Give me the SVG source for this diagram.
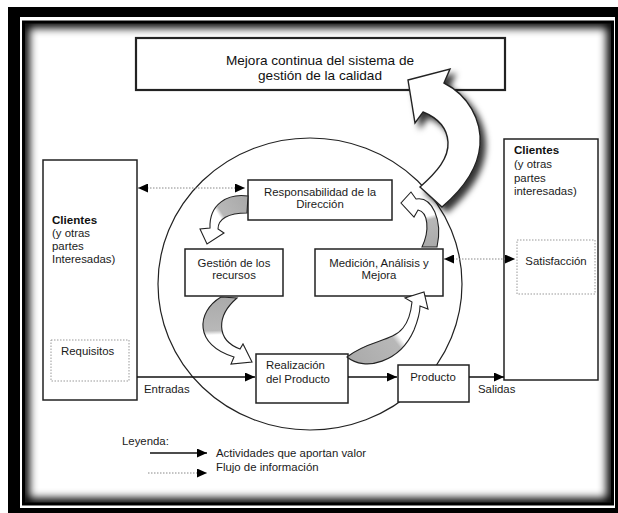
<svg xmlns="http://www.w3.org/2000/svg" width="618" height="513" viewBox="0 0 618 513">
<style>
.t{font-family:"Liberation Sans",Arial,sans-serif;font-size:11.4px;fill:#1a1a1a}
.tb{font-family:"Liberation Sans",Arial,sans-serif;font-size:11.6px;fill:#111;font-weight:bold}
.tt{font-family:"Liberation Sans",Arial,sans-serif;font-size:13.6px;fill:#111}
.box{fill:#fff;stroke:#222;stroke-width:1.5}
.dbox{fill:#fff;stroke:#999;stroke-width:1;stroke-dasharray:1.5 1.5}
.solid{stroke:#111;stroke-width:1.3;fill:none}
.dot{stroke:#888;stroke-width:1;stroke-dasharray:1.5 1.5;fill:none}
.sa{stroke:#222;stroke-width:1.1}
</style>
<defs>
<marker id="ah" markerUnits="userSpaceOnUse" markerWidth="10" markerHeight="9" refX="10" refY="4.5" orient="auto-start-reverse"><path d="M0,0 L10,4.5 L0,9 z" fill="#000"/></marker>
<clipPath id="inner"><rect x="23.5" y="22" width="589" height="482"/></clipPath>
<filter id="blur" x="-5%" y="-5%" width="110%" height="110%"><feGaussianBlur stdDeviation="4"/></filter>
<filter id="shadow" x="-30%" y="-30%" width="160%" height="160%"><feDropShadow dx="5" dy="5" stdDeviation="3" flood-color="#000" flood-opacity="0.8"/></filter>
<linearGradient id="g1" gradientUnits="userSpaceOnUse" x1="248" y1="204" x2="205" y2="232"><stop offset="0" stop-color="#aaa"/><stop offset="0.52" stop-color="#b8b8b8"/><stop offset="0.6" stop-color="#fff"/></linearGradient>
<linearGradient id="g2" gradientUnits="userSpaceOnUse" x1="228" y1="297" x2="230" y2="352"><stop offset="0" stop-color="#aaa"/><stop offset="0.6" stop-color="#b8b8b8"/><stop offset="0.68" stop-color="#fff"/></linearGradient>
<linearGradient id="g3" gradientUnits="userSpaceOnUse" x1="350" y1="360" x2="418" y2="308"><stop offset="0" stop-color="#aaa"/><stop offset="0.55" stop-color="#b8b8b8"/><stop offset="0.63" stop-color="#fff"/></linearGradient>
<linearGradient id="g4" gradientUnits="userSpaceOnUse" x1="430" y1="247" x2="418" y2="200"><stop offset="0" stop-color="#aaa"/><stop offset="0.55" stop-color="#b8b8b8"/><stop offset="0.63" stop-color="#fff"/></linearGradient>
</defs>

<!-- frame -->
<rect x="0" y="0" width="618" height="513" fill="#fff"/>
<rect x="8" y="7" width="620" height="520" fill="#000"/>
<rect x="20" y="17" width="595" height="491" fill="#fff"/>
<rect x="23.5" y="22" width="589" height="482" fill="#fff"/>
<g clip-path="url(#inner)"><rect x="23.5" y="22" width="589" height="482" fill="none" stroke="#000" stroke-width="12" filter="url(#blur)"/></g>
<rect x="23.5" y="22" width="589" height="482" fill="none" stroke="#000" stroke-width="3"/>

<!-- circle -->
<ellipse id="ciclo" cx="310" cy="284" rx="152" ry="146" fill="none" stroke="#222" stroke-width="1.2"/>

<g id="mejora">
<rect class="box" x="136" y="38" width="369" height="52" style="stroke-width:2.2"/>
<text class="tt" x="320" y="65" text-anchor="middle">Mejora continua del sistema de</text>
<text class="tt" x="320" y="80" text-anchor="middle">gestión de la calidad</text>
</g>

<g id="clientes-izq">
<rect class="box" x="43" y="160" width="94" height="240"/>
<text class="tb" x="52" y="224">Clientes</text>
<text class="t" x="52" y="237">(y otras</text>
<text class="t" x="52" y="250">partes</text>
<text class="t" x="52" y="263">Interesadas)</text>
</g>
<g id="requisitos">
<rect class="dbox" x="51" y="340" width="78" height="41"/>
<text class="t" x="61" y="355">Requisitos</text>
</g>

<g id="clientes-der">
<rect class="box" x="504" y="139" width="94" height="241"/>
<text class="tb" x="514" y="154">Clientes</text>
<text class="t" x="514" y="168">(y otras</text>
<text class="t" x="514" y="182">partes</text>
<text class="t" x="514" y="195">interesadas)</text>
</g>
<g id="satisfaccion">
<rect class="dbox" x="517" y="240" width="78" height="54"/>
<text class="t" x="556" y="265" text-anchor="middle">Satisfacción</text>
</g>

<g id="responsabilidad">
<rect class="box" x="248" y="180" width="144" height="40"/>
<text class="t" x="320" y="196" text-anchor="middle">Responsabilidad de la</text>
<text class="t" x="320" y="208" text-anchor="middle">Dirección</text>
</g>
<g id="gestion">
<rect class="box" x="185" y="249" width="98" height="47"/>
<text class="t" x="234" y="267" text-anchor="middle">Gestión de los</text>
<text class="t" x="234" y="279" text-anchor="middle">recursos</text>
</g>
<g id="medicion">
<rect class="box" x="315" y="249" width="128" height="47"/>
<text class="t" x="379" y="267" text-anchor="middle">Medición, Análisis y</text>
<text class="t" x="379" y="279" text-anchor="middle">Mejora</text>
</g>
<g id="realizacion">
<rect class="box" x="256" y="354" width="92" height="49"/>
<text class="t" x="266" y="369">Realización</text>
<text class="t" x="266" y="383">del Producto</text>
</g>
<g id="producto">
<rect class="box" x="398" y="365" width="71" height="37"/>
<text class="t" x="433" y="381" text-anchor="middle">Producto</text>
</g>

<!-- connectors -->
<g id="connectors">
<path class="sa" fill="url(#g1)" d="M248,196 C228,193 209,204 210,228 L200,229 L207,244 L224,233 L218,229 C218,219 228,213 247,213 Z"/>
<path class="sa" fill="url(#g2)" d="M221,297 C196,312 194,345 234,357 L231,364 L252,362 L243,344 L240,349 C216,340 216,316 237,298 Z"/>
<path class="sa" fill="url(#g3)" d="M347,357 C365,372 400,362 414,330 C418,320 420,312 420,306 L428,309 L424,292 L405,298 L412,302 C411,312 408,322 403,328 C392,342 368,340 347,357 Z"/>
<path class="sa" fill="url(#g4)" d="M416,199 C432,196 443,220 437,247 L422,247 C430,230 428,212 418,210 L414,217 L401,203 L411,192 Z"/>
<path fill="#fff" stroke="#222" stroke-width="1.4" filter="url(#shadow)" d="M408,80 L450,69 L444,83 C468,95 482,120 480,145 C478,170 462,190 442,207 L420,187 C437,172 449,158 448,142 C447,128 438,118 423,112 L415,123 Z"/>
<line class="dot" x1="138" y1="188" x2="245" y2="188" marker-start="url(#ah)" marker-end="url(#ah)"/>
<line class="dot" x1="444" y1="259" x2="515" y2="259" marker-start="url(#ah)" marker-end="url(#ah)"/>
<line class="solid" x1="137" y1="377" x2="255" y2="377" marker-end="url(#ah)"/>
<line class="solid" x1="348" y1="377" x2="397" y2="377" marker-end="url(#ah)"/>
<line class="solid" x1="469" y1="377" x2="504" y2="377" marker-end="url(#ah)"/>
<line class="solid" x1="150" y1="453" x2="207" y2="453" marker-end="url(#ah)"/>
<line class="dot" x1="148" y1="473" x2="207" y2="473" marker-end="url(#ah)"/>
</g>

<g id="labels">
<text class="t" x="144" y="393">Entradas</text>
<text class="t" x="478" y="393">Salidas</text>
<text class="t" x="122" y="445">Leyenda:</text>
<text class="t" x="216" y="457">Actividades que aportan valor</text>
<text class="t" x="216" y="471">Flujo de información</text>
</g>
</svg>
